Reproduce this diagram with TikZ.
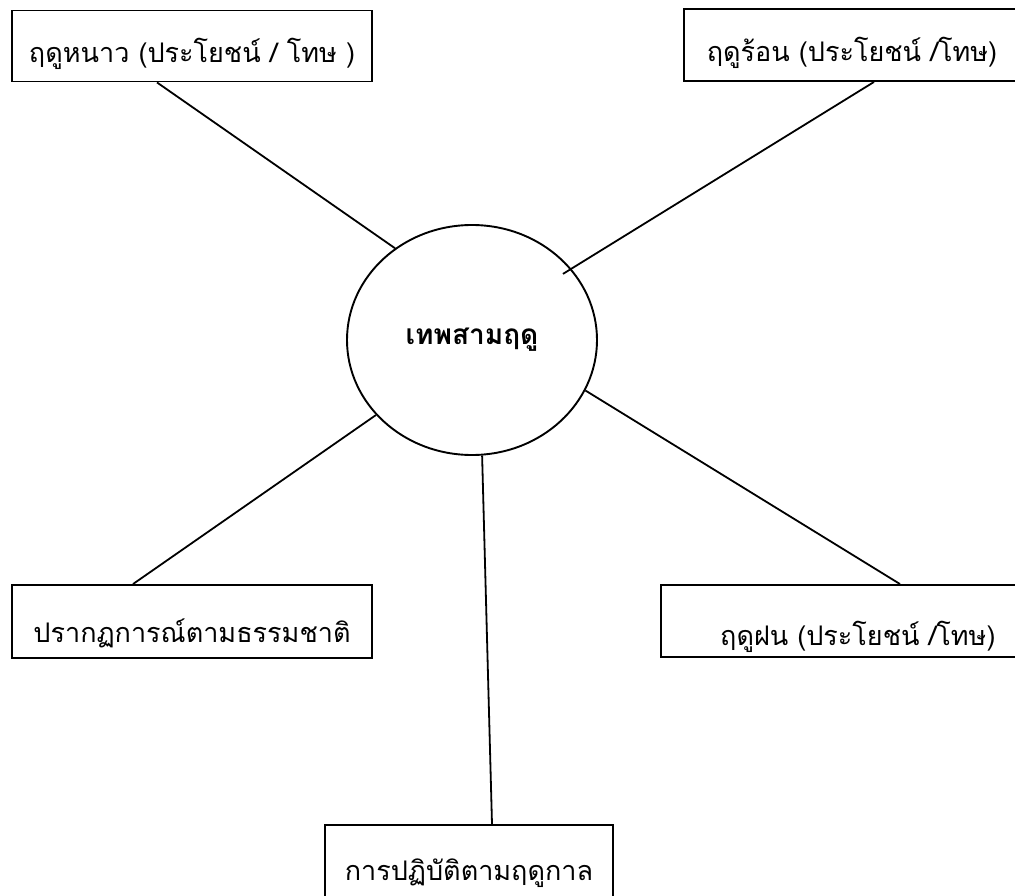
\documentclass[tikz,border=0pt]{standalone}
\usepackage{fontspec}
\usepackage{xcolor}
\usepackage{tikz}
\usetikzlibrary{calc,shapes.geometric}
\newfontfamily\thaifont[Script=Thai]{Loma}
\definecolor{ink}{HTML}{000000}
\definecolor{paper}{HTML}{FFFFFF}
\tikzset{
  seasonBox/.style={draw=ink, line width=1.9pt, rectangle, inner sep=0pt,
    text=ink, font=\thaifont\fontsize{27}{30}\selectfont, text depth=0pt},
  godCircle/.style={draw=ink, line width=1.9pt, ellipse, inner sep=0pt,
    minimum width=250pt, minimum height=230pt, text=ink,
    font=\thaifont\bfseries\fontsize{28}{30}\selectfont},
  spoke/.style={draw=ink, line width=1.8pt}
}

\begin{document}
\begin{tikzpicture}[x=1pt, y=-1pt]
  \useasboundingbox[fill=paper] (0,0) rectangle (1015,896);

  \coordinate (W) at (192,46);
  \coordinate (S) at (852,45);
  \coordinate (N) at (192,621.5);
  \coordinate (R) at (840.5,621);
  \coordinate (P) at (469,862.5);

  \node[godCircle] (god) at (472,340) {เทพสามฤดู};

  \node[seasonBox, minimum width=360pt, minimum height=71pt, text height=34pt] (winter) at (W) {ฤดูหนาว (ประโยชน์ / โทษ )};
  \node[seasonBox, minimum width=336pt, minimum height=72pt, text height=34pt] (summer) at (S) {ฤดูร้อน (ประโยชน์ /โทษ)};
  \node[seasonBox, minimum width=360pt, minimum height=73pt, text height=41pt] (nature) at (N) {ปรากฏการณ์ตามธรรมชาติ};
  \node[seasonBox, minimum width=359pt, minimum height=72pt, text height=48pt, inner xsep=0pt, text width=310pt, align=right] (rain) at (R) {ฤดูฝน (ประโยชน์ /โทษ)};
  \node[seasonBox, minimum width=288pt, minimum height=75pt, text height=35pt] (practice) at (P) {การปฏิบัติตามฤดูกาล};

  \draw[spoke] ([xshift=-35pt]winter.south) -- (god.130);
  \draw[spoke] ([xshift=22pt]summer.south) -- ($(god.center)!0.92!(god.36)$);
  \draw[spoke] ([xshift=-59pt]nature.north) -- (god.218);
  \draw[spoke] ([xshift=59.5pt]rain.north) -- (god.-24);
  \draw[spoke] ([xshift=23pt]practice.north) -- (god.-85);
\end{tikzpicture}
\end{document}
